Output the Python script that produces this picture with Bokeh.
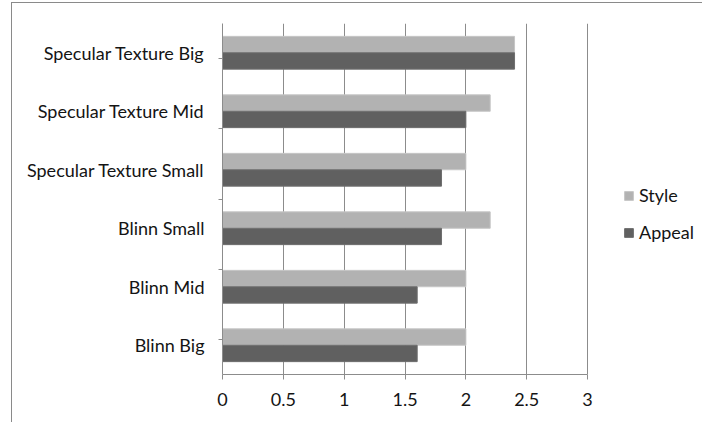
from bokeh.plotting import figure
from bokeh.models import (ColumnDataSource, FactorRange, Range1d, LinearAxis,
                          CategoricalAxis, FixedTicker, NumeralTickFormatter, Legend, LegendItem)
from bokeh.transform import dodge
from bokeh.embed import file_html
from bokeh.resources import INLINE

# Shader variants, listed bottom to top
categories = ["Blinn Big", "Blinn Mid", "Blinn Small",
              "Specular Texture Small", "Specular Texture Mid", "Specular Texture Big"]
style_scores = [2.0, 2.0, 2.2, 2.0, 2.2, 2.4]
appeal_scores = [1.6, 1.6, 1.8, 1.8, 2.0, 2.4]
x_ticks = [0, 0.5, 1, 1.5, 2, 2.5, 3]

STYLE_COLOR = "#b2b2b2"
APPEAL_COLOR = "#606060"
GRID_COLOR = "#8c8c8c"
TEXT_COLOR = "#141414"
FONT = "Lato"
FONT_SIZE = "18px"

source = ColumnDataSource(dict(cat=categories, style=style_scores, appeal=appeal_scores))

# the frame runs on to the right edge so the legend can sit beside the scale
p = figure(width=691, height=420, output_backend="svg", toolbar_location=None,
           y_range=FactorRange(factors=categories, range_padding=0),
           x_range=Range1d(0, 3.953), x_axis_location=None, y_axis_location=None,
           min_border_left=210, min_border_right=0, min_border_top=20, min_border_bottom=49)
p.styles = {"border-left": "1px solid #8a8a8a", "border-top": "1px solid #8a8a8a",
            "margin-left": "11px", "margin-top": "2px"}
p.outline_line_color = None
p.background_fill_color = "white"

bar_h = 0.28
r_style = p.hbar(y=dodge("cat", 0.14, range=p.y_range), right="style", left=0, height=bar_h,
                 source=source, fill_color=STYLE_COLOR, line_color="#c6c6c6", line_width=1)
r_appeal = p.hbar(y=dodge("cat", -0.14, range=p.y_range), right="appeal", left=0, height=bar_h,
                  source=source, fill_color=APPEAL_COLOR, line_color="#6e6e6e", line_width=1)

# vertical gridlines only
p.ygrid.visible = False
p.xgrid.grid_line_color = GRID_COLOR
p.xgrid.grid_line_width = 1
p.xgrid.ticker = FixedTicker(ticks=x_ticks)

# value axis
xaxis = LinearAxis(ticker=FixedTicker(ticks=x_ticks), formatter=NumeralTickFormatter(format="0.[0]"),
                   bounds=(0, 3))
xaxis.axis_line_color = GRID_COLOR
xaxis.major_tick_line_color = GRID_COLOR
xaxis.major_tick_out = 5
xaxis.major_tick_in = 0
xaxis.minor_tick_line_color = None
xaxis.major_label_standoff = 13
xaxis.major_label_text_font = FONT
xaxis.major_label_text_font_size = FONT_SIZE
xaxis.major_label_text_color = TEXT_COLOR
p.add_layout(xaxis, "below")

# category boundary ticks: one factor per boundary, centred on the band edges
bounds = [str(i) for i in range(len(categories) + 1)]
p.extra_y_ranges = {"bounds": FactorRange(factors=bounds, range_padding=-1,
                                          range_padding_units="absolute")}
baxis = CategoricalAxis(y_range_name="bounds")
baxis.axis_line_color = GRID_COLOR
baxis.major_tick_line_color = GRID_COLOR
baxis.major_tick_out = 4
baxis.major_tick_in = 0
baxis.major_label_text_font_size = "0px"
baxis.major_label_text_alpha = 0
baxis.major_label_standoff = 0
p.add_layout(baxis, "left")

# category labels
yaxis = CategoricalAxis()
yaxis.axis_line_color = None
yaxis.major_tick_line_color = None
yaxis.major_label_standoff = 8
yaxis.major_label_text_font = FONT
yaxis.major_label_text_font_size = FONT_SIZE
yaxis.major_label_text_color = TEXT_COLOR
p.add_layout(yaxis, "left")

legend = Legend(items=[LegendItem(label="Style", renderers=[r_style]),
                       LegendItem(label="Appeal", renderers=[r_appeal])],
                location=(401, 131), border_line_color=None, background_fill_alpha=0,
                label_text_font=FONT, label_text_font_size=FONT_SIZE, label_text_color=TEXT_COLOR,
                glyph_width=11, glyph_height=11, spacing=15, margin=0, padding=0,
                label_standoff=5)
p.add_layout(legend)

open("out.html", "w").write(file_html(p, INLINE))
